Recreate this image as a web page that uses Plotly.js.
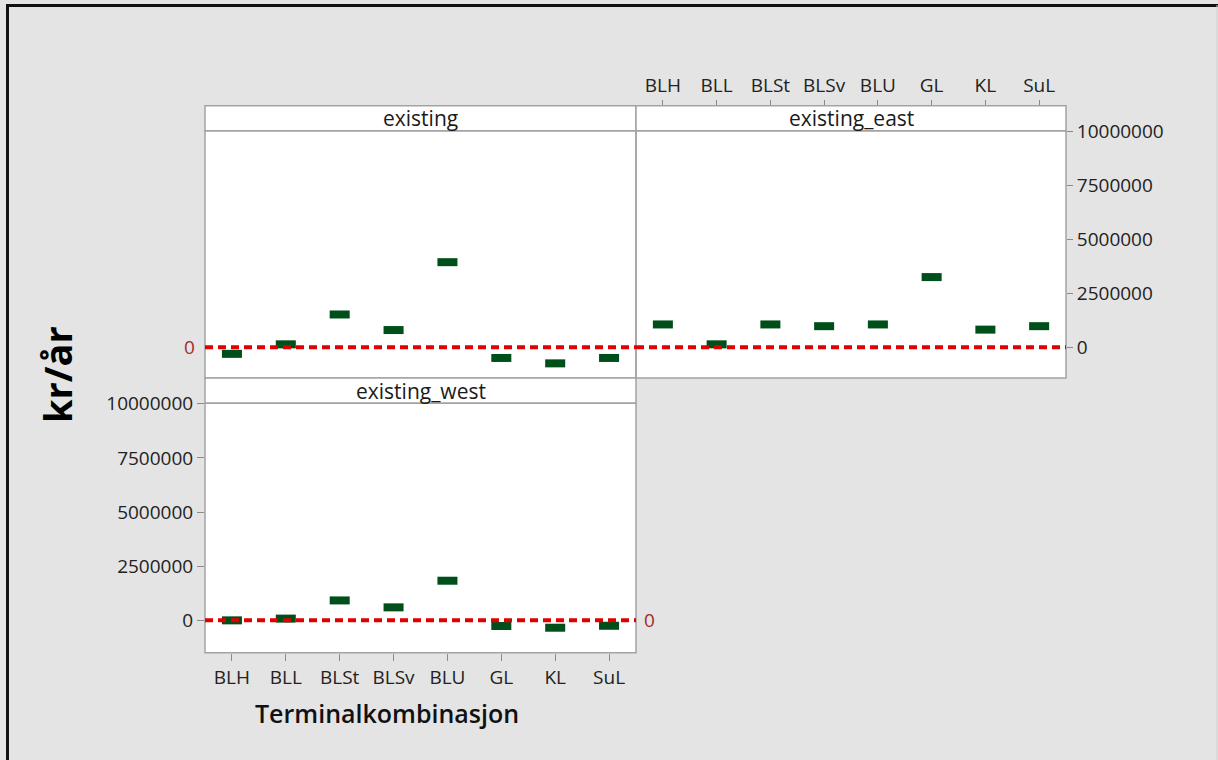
<!DOCTYPE html>
<html>
<head>
<meta charset="utf-8">
<script src="https://cdn.plot.ly/plotly-3.0.1.min.js"></script>
<style>
html,body{margin:0;padding:0;background:#e4e4e4;}
#chart{width:1218px;height:760px;}
</style>
</head>
<body>
<div id="chart"></div>
<script>
// ---- data ----
const categories = ['BLH','BLL','BLSt','BLSv','BLU','GL','KL','SuL'];
const panelNames = ['existing','existing_east','existing_west'];
const existingValues = [-300000, 140000, 1520000, 800000, 3940000, -490000, -740000, -490000];
const eastValues = [1060000, 140000, 1060000, 980000, 1060000, 3250000, 820000, 980000];
const westValues = [0, 80000, 920000, 600000, 1830000, -260000, -340000, -250000];
const yTickValues = [0, 2500000, 5000000, 7500000, 10000000];
const yTickLabels = ['0','2500000','5000000','7500000','10000000'];
const referenceValue = 0;
const yTitle = 'kr/år';
const xTitle = 'Terminalkombinasjon';

// ---- layout geometry (pixels) ----
const W = 1218, H = 760;
const px = v => v / W;
const py = v => 1 - v / H;

const markerStyle = {symbol:'line-ew-open', size:14.3, color:'#004f1a', line:{color:'#004f1a', width:8}};
function tr(vals, xa, ya){
  return {type:'scatter', mode:'markers', x:categories, y:vals, xaxis:xa, yaxis:ya,
          marker:markerStyle, hoverinfo:'x+y', showlegend:false, cliponaxis:false};
}
const data = [tr(existingValues,'x','y'), tr(eastValues,'x2','y2'), tr(westValues,'x3','y3')];

const tickFont = {family:'Open Sans, sans-serif', size:19, color:'#222222'};
const xBase = {type:'category', categoryorder:'array', categoryarray:categories, range:[-0.5,7.5],
  showgrid:false, zeroline:false, showline:false, fixedrange:true};
const topRange = [-1417000, 10020000];
const botRange = [-1493000, 10020000];
const yBase = {showgrid:false, zeroline:false, showline:false, fixedrange:true};

const frameColor = '#a3a3a3';
const shapes = [];
function panelShapes(x0, x1, stripTop, plotTop, plotBot){
  shapes.push({type:'rect', xref:'paper', yref:'paper', x0:px(x0), x1:px(x1), y0:py(plotTop), y1:py(stripTop),
    fillcolor:'#ffffff', line:{color:frameColor, width:1.5}, layer:'above'});
  shapes.push({type:'rect', xref:'paper', yref:'paper', x0:px(x0), x1:px(x1), y0:py(plotBot), y1:py(plotTop),
    fillcolor:'rgba(0,0,0,0)', line:{color:frameColor, width:1.5}, layer:'above'});
}
panelShapes(205, 636, 105.7, 130.7, 378);
panelShapes(636, 1066, 105.7, 130.7, 378);
panelShapes(205, 636, 378, 403.3, 652.7);

// reference lines
[['x','y'],['x2','y2'],['x3','y3']].forEach(([xa,ya])=>{
  shapes.push({type:'line', xref:xa+' domain', yref:ya, x0:0, x1:1, y0:referenceValue, y1:referenceValue,
    line:{color:'#e00000', width:4, dash:'8px,5px'}, layer:'above'});
});
// outer frame
shapes.push({type:'line', xref:'paper', yref:'paper', x0:px(6), x1:1, y0:py(5.5), y1:py(5.5), line:{color:'#111', width:3}});
shapes.push({type:'line', xref:'paper', yref:'paper', x0:px(7.5), x1:px(7.5), y0:0, y1:py(5), line:{color:'#111', width:3}});
shapes.push({type:'line', xref:'paper', yref:'paper', x0:px(1217), x1:px(1217), y0:0, y1:py(5), line:{color:'#cfcfcf', width:1}});

const stripFont = {family:'Open Sans, sans-serif', size:21, color:'#1a1a1a'};
const zeroFont = {family:'Open Sans, sans-serif', size:19, color:'#a52a2a'};
const annotations = [
  {text:panelNames[0], xref:'paper', yref:'paper', x:px(420.5), y:py(118.2), showarrow:false, font:stripFont, xanchor:'center', yanchor:'middle'},
  {text:panelNames[1], xref:'paper', yref:'paper', x:px(851), y:py(118.2), showarrow:false, font:stripFont, xanchor:'center', yanchor:'middle'},
  {text:panelNames[2], xref:'paper', yref:'paper', x:px(420.5), y:py(391), showarrow:false, font:stripFont, xanchor:'center', yanchor:'middle'},
  {text:String(referenceValue), xref:'paper', yref:'y', x:px(189), y:referenceValue, showarrow:false,
    font:zeroFont, xanchor:'center', yanchor:'middle'},
  {text:String(referenceValue), xref:'paper', yref:'y3', x:px(649), y:referenceValue, showarrow:false,
    font:zeroFont, xanchor:'center', yanchor:'middle'},
  {text:'<b>'+yTitle+'</b>', xref:'paper', yref:'paper', x:px(57), y:py(375), textangle:-90, showarrow:false,
    font:{family:'Open Sans, sans-serif', size:38, color:'#000000'}, xanchor:'center', yanchor:'middle'},
  {text:xTitle, xref:'paper', yref:'paper', x:px(387), y:py(713), showarrow:false,
    font:{family:'Open Sans, sans-serif', size:25, color:'#111111', weight:600}, xanchor:'center', yanchor:'middle'}
];

const layout = {
  width:W, height:H, autosize:false,
  margin:{l:0,r:0,t:0,b:0,pad:0},
  paper_bgcolor:'#e4e4e4', plot_bgcolor:'#ffffff',
  showlegend:false,
  xaxis: Object.assign({}, xBase, {domain:[px(205),px(636)], anchor:'y', showticklabels:false, ticks:''}),
  yaxis: Object.assign({}, yBase, {domain:[py(378),py(130.7)], anchor:'x', range:topRange, showticklabels:false, ticks:''}),
  xaxis2: Object.assign({}, xBase, {domain:[px(636),px(1066)], anchor:'free', position:py(105.7), side:'top',
    ticks:'outside', ticklen:6, tickcolor:'#8a8a8a', tickwidth:1, tickfont:tickFont}),
  yaxis2: Object.assign({}, yBase, {domain:[py(378),py(130.7)], anchor:'x2', side:'right', range:topRange,
    tickmode:'array', tickvals:yTickValues, ticktext:yTickLabels, ticks:'outside', ticklen:6, tickcolor:'#8a8a8a', tickwidth:1, tickfont:tickFont}),
  xaxis3: Object.assign({}, xBase, {domain:[px(205),px(636)], anchor:'y3', side:'bottom',
    ticks:'outside', ticklen:7, tickcolor:'#8a8a8a', tickwidth:1, tickfont:tickFont}),
  yaxis3: Object.assign({}, yBase, {domain:[py(652.7),py(403.3)], anchor:'x3', side:'left', range:botRange,
    tickmode:'array', tickvals:yTickValues, ticktext:yTickLabels, ticks:'outside', ticklen:7, tickcolor:'#8a8a8a', tickwidth:1, tickfont:tickFont}),
  shapes:shapes,
  annotations:annotations
};

Plotly.newPlot('chart', data, layout, {displayModeBar:false, staticPlot:true});
</script>
</body>
</html>
